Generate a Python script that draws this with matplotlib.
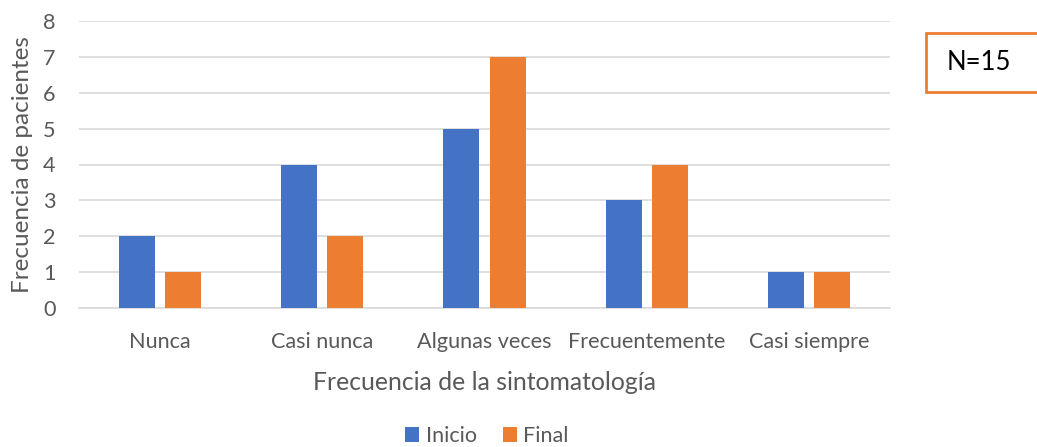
import matplotlib
matplotlib.use("Agg")
import matplotlib.pyplot as plt
import numpy as np
from matplotlib.patches import Rectangle

categories = ["Nunca", "Casi nunca", "Algunas veces", "Frecuentemente", "Casi siempre"]
inicio = [2, 4, 5, 3, 1]
final = [1, 2, 7, 4, 1]
yticks = [0, 1, 2, 3, 4, 5, 6, 7, 8]

plt.rcParams['font.family'] = ['Lato', 'DejaVu Sans']
grey = "#595959"
blue = "#4472C4"
orange = "#ED7D31"

W, H = 1037, 447
fig = plt.figure(figsize=(W / 100, H / 100), dpi=100)
ax = fig.add_axes([79 / W, (H - 308) / H, (890 - 79) / W, (308 - 21) / H])

x = np.arange(len(categories))
bw = 0.222
off = 0.142
ax.bar(x - off, inicio, bw, color=blue, label="Inicio", zorder=3)
ax.bar(x + off, final, bw, color=orange, label="Final", zorder=3)

ax.set_xlim(-0.5, len(categories) - 0.5)
ax.set_ylim(0, 8)
ax.set_yticks(yticks)
ax.yaxis.grid(True, color="#d9d9d9", linewidth=1.2, zorder=0)
ax.set_axisbelow(True)
for s in ["top", "right", "left"]:
    ax.spines[s].set_visible(False)
ax.spines["bottom"].set_color("#d9d9d9")
ax.spines["bottom"].set_linewidth(1.2)
ax.tick_params(axis="both", length=0, labelsize=15.6, colors=grey)
ax.tick_params(axis="y", pad=17)
ax.tick_params(axis="x", pad=17)
ax.set_xticks(x)
ax.set_xticklabels(categories)

ax.set_ylabel("Frecuencia de pacientes", fontsize=17.5, color=grey, labelpad=7)
ax.set_xlabel("Frecuencia de la sintomatología", fontsize=17.8, color=grey, labelpad=14)

leg = fig.legend(loc="center", bbox_to_anchor=(487 / W, 1 - 436 / H), ncol=2,
                 frameon=False, fontsize=15.5, handlelength=0.65, handleheight=0.65,
                 handletextpad=0.3, columnspacing=1.2, labelcolor=grey)

# N label box at upper right
fig.patches.append(Rectangle((926 / W, 1 - 92 / H), 120 / W, 59 / H,
                             transform=fig.transFigure, facecolor="white",
                             edgecolor=orange, linewidth=2))
fig.text(979 / W, 1 - 62 / H, "N=15", fontsize=18.5, color="black",
         ha="center", va="center")

fig.savefig("out.png", dpi=100)
